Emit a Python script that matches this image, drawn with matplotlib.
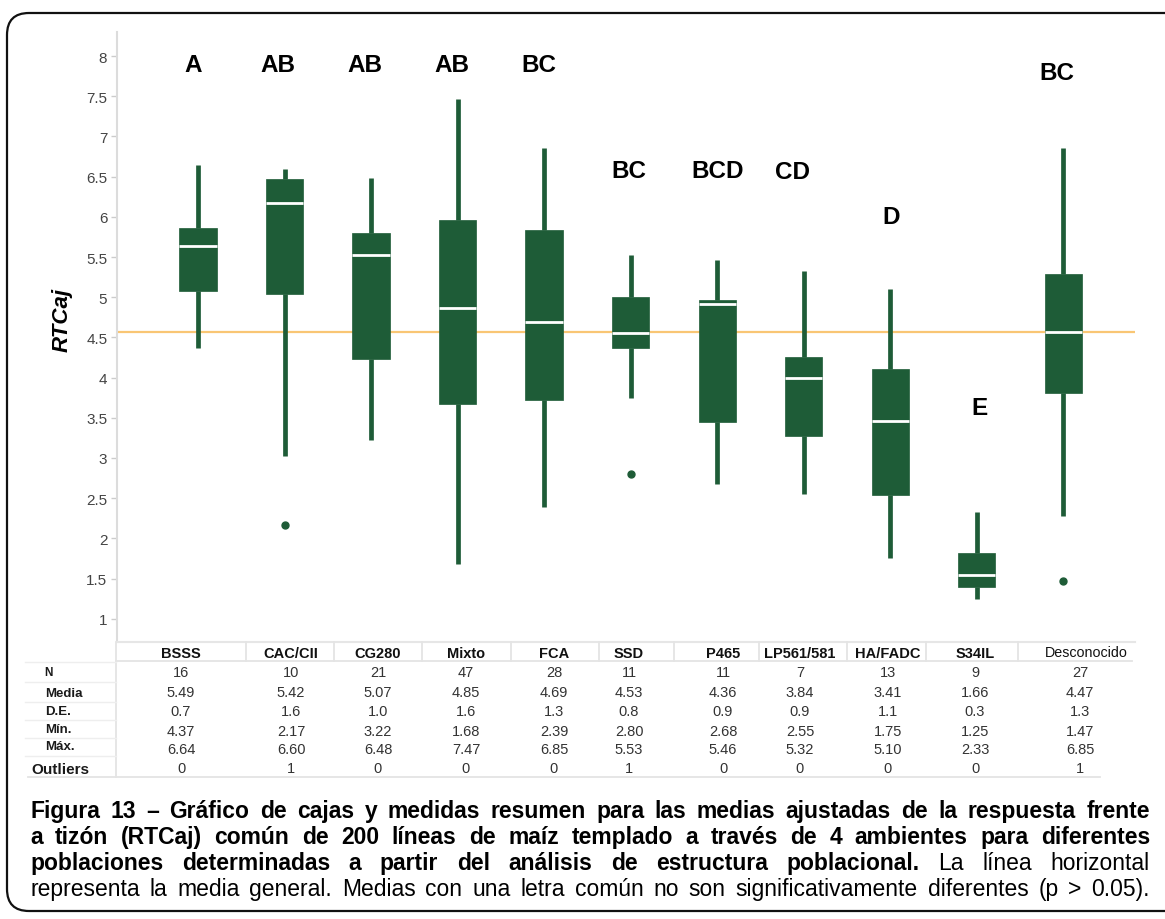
import numpy as np
import matplotlib
matplotlib.use('Agg')
import matplotlib.pyplot as plt
from matplotlib.patches import FancyBboxPatch
from matplotlib.lines import Line2D
from matplotlib.ticker import FuncFormatter

plt.rcParams['font.family'] = ['Liberation Sans', 'DejaVu Sans']

# data
groups = ['BSSS', 'CAC/CII', 'CG280', 'Mixto', 'FCA', 'SSD', 'P465',
          'LP561/581', 'HA/FADC', 'S34IL', 'Desconocido']
q1 = [5.08, 5.04, 4.23, 3.67, 3.72, 4.37, 3.45, 3.27, 2.54, 1.40, 3.81]
med = [5.64, 6.17, 5.52, 4.87, 4.69, 4.55, 4.91, 4.00, 3.46, 1.55, 4.57]
q3 = [5.86, 6.47, 5.80, 5.96, 5.84, 5.00, 4.96, 4.26, 4.11, 1.82, 5.29]
whislo = [4.37, 3.03, 3.22, 1.68, 2.39, 3.75, 2.68, 2.55, 1.75, 1.25, 2.28]
whishi = [6.64, 6.60, 6.48, 7.47, 6.85, 5.53, 5.46, 5.32, 5.10, 2.33, 6.85]
outliers = [[], [2.17], [], [], [], [2.80], [], [], [], [], [1.47]]
grand_mean = 4.57

letters = ['A', 'AB', 'AB', 'AB', 'BC', 'BC', 'BCD', 'CD', 'D', 'E', 'BC']
letter_y = [7.81, 7.81, 7.81, 7.81, 7.81, 6.50, 6.50, 6.48, 5.92, 3.55, 7.71]

row_names = ['N', 'Media', 'D.E.', 'Mín.', 'Máx.', 'Outliers']
n_obs = ['16', '10', '21', '47', '28', '11', '11', '7', '13', '9', '27']
media = ['5.49', '5.42', '5.07', '4.85', '4.69', '4.53', '4.36', '3.84', '3.41', '1.66', '4.47']
de = ['0.7', '1.6', '1.0', '1.6', '1.3', '0.8', '0.9', '0.9', '1.1', '0.3', '1.3']
minimo = ['4.37', '2.17', '3.22', '1.68', '2.39', '2.80', '2.68', '2.55', '1.75', '1.25', '1.47']
maximo = ['6.64', '6.60', '6.48', '7.47', '6.85', '5.53', '5.46', '5.32', '5.10', '2.33', '6.85']
n_out = ['0', '1', '0', '0', '0', '1', '0', '0', '0', '0', '1']

# layout
xpos = np.arange(len(groups))
letter_dx = [-0.06, -0.08, -0.07, -0.06, -0.06, -0.02, 0.01, -0.13, 0.01, 0.03, -0.07]
col_x = [181, 291, 378, 466, 554, 629, 723, 800, 888, 975, 1080]
col_sep = [246, 334, 422, 511, 599, 674, 759, 847, 926, 1018]
row_y = [673, 693, 712, 732, 750, 769]

GREEN = '#1e5c37'
W, H = 1165, 920


def fx(x):
    return x / W


def fy(y):
    return 1 - y / H


fig = plt.figure(figsize=(11.65, 9.2), dpi=100)

frame = FancyBboxPatch((7, 8), 1200, 898, boxstyle='round,pad=0,rounding_size=22',
                       transform=None, fill=False, edgecolor='#111111', linewidth=1.6)
fig.add_artist(frame)

ax = fig.add_axes([fx(117), fy(643), fx(1135) - fx(117), fy(33) - fy(643)])
stats = [dict(label=g, med=m, q1=a, q3=b, whislo=lo, whishi=hi, fliers=f)
         for g, m, a, b, lo, hi, f in zip(groups, med, q1, q3, whislo, whishi, outliers)]
ax.bxp(stats, positions=xpos, widths=0.43, patch_artist=True, showcaps=False,
       boxprops=dict(facecolor=GREEN, edgecolor=GREEN, linewidth=0.5),
       medianprops=dict(color='white', linewidth=2.0, solid_capstyle='butt'),
       whiskerprops=dict(color=GREEN, linewidth=3.4, solid_capstyle='butt'),
       flierprops=dict(marker='o', markerfacecolor=GREEN, markeredgecolor=GREEN, markersize=5))
ax.axhline(grand_mean, color='#f9c674', linewidth=1.6, zorder=1)

for x, dx, ly, s in zip(xpos, letter_dx, letter_y, letters):
    ax.text(x + dx, ly, s, ha='center', va='baseline', fontsize=17.5, fontweight='bold')

ax.set_xlim(-0.936, 10.83)
ax.set_ylim(0.711, 8.299)
ax.set_yticks(np.arange(1, 8.01, 0.5))
ax.yaxis.set_major_formatter(FuncFormatter(lambda v, p: f'{v:g}'))
ax.set_xticks([])
ax.tick_params(axis='y', length=4, width=1, color='#cccccc', labelcolor='#444444',
               labelsize=11, pad=3)
for s in ['top', 'right']:
    ax.spines[s].set_visible(False)
ax.spines['left'].set_color('#dcdcdc')
ax.spines['left'].set_linewidth(1.5)
ax.spines['bottom'].set_color('#e6e6e6')
ax.spines['bottom'].set_linewidth(1.5)

fig.text(fx(62), fy(320), 'RTCaj', rotation=90, fontsize=16, fontweight='bold',
         fontstyle='italic', ha='center', va='center')


# summary table
def hline(y, x0, x1, color='#e4e4e4', lw=1.3):
    fig.add_artist(Line2D([fx(x0), fx(x1)], [fy(y), fy(y)], color=color, lw=lw))


def vline(x, y0, y1, color='#e4e4e4', lw=1.3):
    fig.add_artist(Line2D([fx(x), fx(x)], [fy(y0), fy(y1)], color=color, lw=lw))


hline(662, 116, 1132)
hline(778, 28, 1100)
vline(116, 643, 778)
for xs in col_sep:
    vline(xs, 643, 662)
for yl in [663, 683, 703, 721, 739, 757]:
    hline(yl, 25, 116, color='#eeeeee', lw=1.0)

for x, g in zip(col_x, groups):
    if g == 'Desconocido':
        fig.text(fx(1086), fy(653), g, ha='center', va='center', fontsize=10.3,
                 color='#111111')
    else:
        fig.text(fx(x), fy(654), g, ha='center', va='center', fontsize=10.5,
                 fontweight='bold', color='#111111')

for ry, row in zip(row_y, [n_obs, media, de, minimo, maximo, n_out]):
    for x, v in zip(col_x, row):
        fig.text(fx(x), fy(ry), v, ha='center', va='center', fontsize=10.5, color='#333333')

label_pos = [(48, 673, 'center', 8.5), (45, 694, 'left', 9.5), (45, 712, 'left', 9.5),
             (45, 730, 'left', 9.5), (45, 747, 'left', 9.5), (31, 770, 'left', 11)]
for (lx, ly, ha, fs), name in zip(label_pos, row_names):
    fig.text(fx(lx), fy(ly), name, ha=ha, va='center', fontsize=fs, fontweight='bold',
             color='#1a1a1a')

# caption, justified line by line
caption = [
    [('Figura 13 – Gráfico de cajas y medidas resumen para las medias ajustadas de la respuesta frente', 'bold')],
    [('a tizón (RTCaj) común de 200 líneas de maíz templado a través de 4 ambientes para diferentes', 'bold')],
    [('poblaciones determinadas a partir del análisis de estructura poblacional.', 'bold'),
     ('La línea horizontal', 'normal')],
    [('representa la media general. Medias con una letra común no son significativamente diferentes (p > 0.05).', 'normal')],
]
base_y = [818, 844, 870, 896]

renderer = fig.canvas.get_renderer()
for by, segs in zip(base_y, caption):
    words = []
    for txt, wt in segs:
        words += [(w, wt) for w in txt.split(' ') if w]
    objs = [fig.text(0, fy(by), w, fontsize=16.5, fontweight=wt, ha='left', va='baseline')
            for w, wt in words]
    widths = [o.get_window_extent(renderer).width for o in objs]
    gap = (1150 - 30 - sum(widths)) / (len(objs) - 1)
    x = 30
    for o, w in zip(objs, widths):
        o.set_x(fx(x))
        x += w + gap

fig.savefig('out.png', dpi=100)
